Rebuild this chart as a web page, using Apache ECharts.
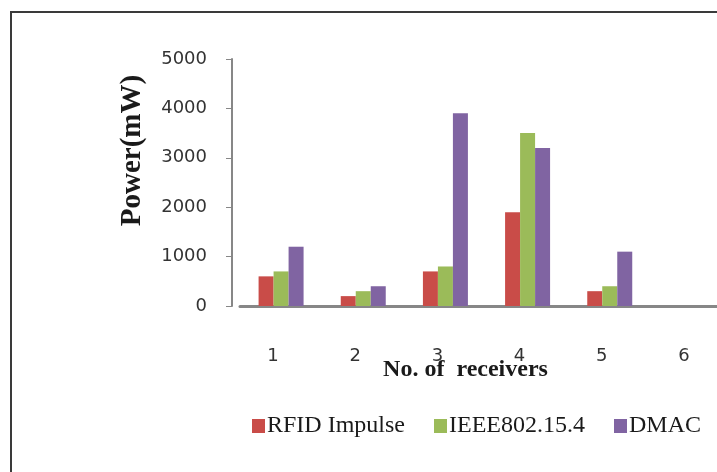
<!DOCTYPE html>
<html>
<head>
<meta charset="utf-8">
<script src="https://cdn.jsdelivr.net/npm/echarts@6/dist/echarts.min.js"></script>
<style>
html,body{margin:0;padding:0;background:#fff;}
#chart{width:717px;height:472px;}
</style>
</head>
<body>
<div id="chart"></div>
<script>
var categories = ['1', '2', '3', '4', '5', '6'];
var rfidImpulse = [600, 200, 700, 1900, 300, 0];
var ieee802154 = [700, 300, 800, 3500, 400, 0];
var dmac = [1200, 400, 3900, 3200, 1100, 0];
var seriesNames = ['RFID Impulse', 'IEEE802.15.4', 'DMAC'];
var colors = ['#C94C48', '#9BBB59', '#8064A2'];

var chart = echarts.init(document.getElementById('chart'));
chart.setOption({
  animation: false,
  backgroundColor: '#ffffff',
  color: colors,
  graphic: [{
    type: 'rect',
    shape: { x: 11, y: 12, width: 740, height: 500 },
    style: { fill: 'none', stroke: '#3a3a3a', lineWidth: 2 },
    silent: true
  }],
  grid: { left: 240, top: 59, width: 493, height: 247, outerBoundsMode: 'none', containLabel: false },
  legend: {
    data: seriesNames,
    left: 247,
    top: 409,
    itemWidth: 13,
    itemHeight: 14,
    itemGap: 29,
    icon: 'rect',
    textStyle: { fontFamily: 'Liberation Serif', fontSize: 24, color: '#1a1a1a', padding: [0, 0, 0, -3] }
  },
  xAxis: {
    type: 'category',
    data: categories,
    name: 'No. of  receivers',
    nameLocation: 'middle',
    nameGap: 52,
    nameMoveOverlap: false,
    nameTextStyle: {
      fontFamily: 'Liberation Serif', fontWeight: 'bold', fontSize: 24, color: '#1a1a1a',
      padding: [0, 42, 0, 0]
    },
    axisLine: { lineStyle: { color: '#878787', width: 3 } },
    axisTick: { show: false },
    axisLabel: {
      fontFamily: 'DejaVu Sans', fontSize: 18, color: '#333333', margin: 41,
      padding: [0, 16, 0, 0]
    }
  },
  yAxis: {
    type: 'value',
    min: 0, max: 5000, interval: 1000,
    offset: 8,
    name: 'Power(mW)',
    nameLocation: 'middle',
    nameGap: 85,
    nameMoveOverlap: false,
    nameTextStyle: {
      fontFamily: 'Liberation Serif', fontWeight: 'bold', fontSize: 29, color: '#1a1a1a',
      padding: [0, 0, 0, 64]
    },
    axisLine: { show: true, lineStyle: { color: '#878787', width: 2 } },
    axisTick: { show: true, inside: false, length: 6, lineStyle: { color: '#878787', width: 1 } },
    splitLine: { show: false },
    axisLabel: {
      fontFamily: 'DejaVu Sans', fontSize: 18, color: '#333333', margin: 25,
      formatter: function (v) { return String(v); }
    }
  },
  series: [
    { name: seriesNames[0], type: 'bar', data: rfidImpulse, barWidth: 15, barGap: '0%' },
    { name: seriesNames[1], type: 'bar', data: ieee802154, barWidth: 15, barGap: '0%' },
    { name: seriesNames[2], type: 'bar', data: dmac, barWidth: 15, barGap: '0%' }
  ]
});
</script>
</body>
</html>
